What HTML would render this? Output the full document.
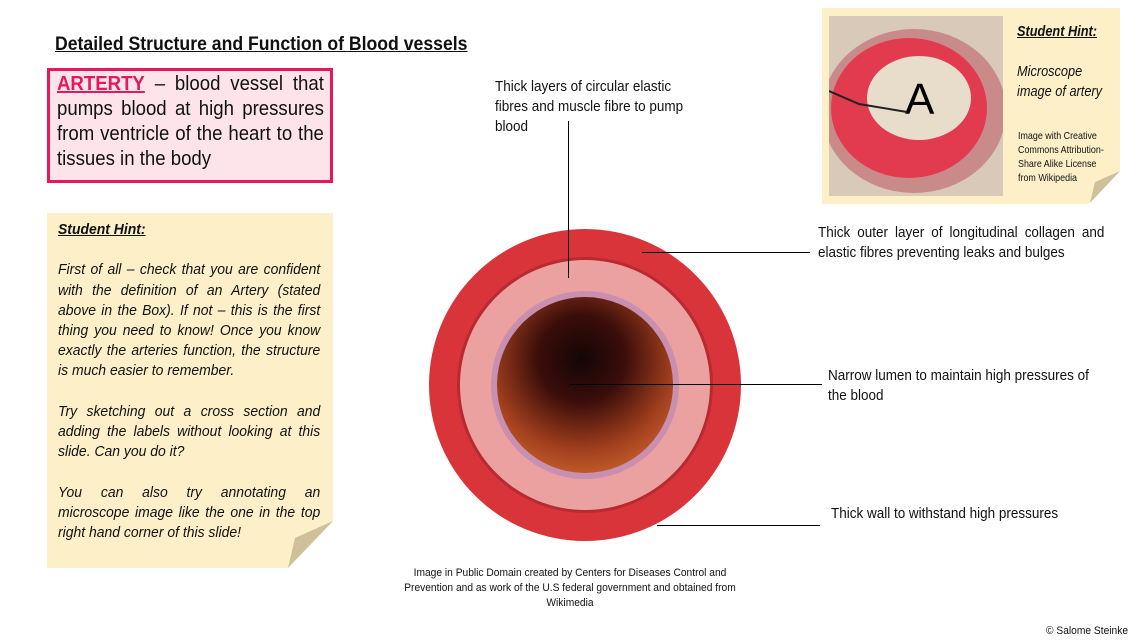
<!DOCTYPE html>
<html><head><meta charset="utf-8"><style>
body{margin:0;width:1146px;height:642px;background:#fff;position:relative;overflow:hidden;font-family:"Liberation Sans",sans-serif;color:#111}
.a{position:absolute}
.n{transform:scaleX(0.93);transform-origin:0 0}
.j{text-align:justify;text-align-last:left}
</style></head><body>
<div class="a" style="left:55px;top:34px;font-size:19px;font-weight:bold;text-decoration:underline;transform:scaleX(0.928);transform-origin:0 0;white-space:nowrap">Detailed Structure and Function of Blood vessels</div>

<div class="a" style="left:47px;top:68px;width:280px;height:109px;border:3px solid #e8175d;background:#fce4ea;"></div>
<div class="a n j" style="left:57px;top:72px;width:287px;font-size:20px;line-height:25px;">
<span style="color:#e8175d;font-weight:bold;text-decoration:underline">ARTERTY</span> – blood vessel that pumps blood at high pressures from ventricle of the heart to the tissues in the body</div>

<div class="a" style="left:47px;top:213px;width:286px;height:355px;background:#fdf0c9;"></div>
<svg class="a" style="left:286px;top:520px" width="48" height="50"><polygon points="48,0 48,50 0,50" fill="#fff"/><polygon points="47,1 2,48 9,18" fill="#cfc09a"/></svg>
<div class="a n j" style="left:58px;top:220px;width:282px;font-size:15px;line-height:20.2px;font-style:italic;">
<b style="text-decoration:underline">Student Hint:</b><br><br>
First of all – check that you are confident with the definition of an Artery (stated above in the Box). If not – this is the first thing you need to know! Once you know exactly the arteries function, the structure is much easier to remember.<br><br>
Try sketching out a cross section and adding the labels without looking at this slide. Can you do it?<br><br>
You can also try annotating an microscope image like the one in the top right hand corner of this slide!</div>

<div class="a" style="left:822px;top:8px;width:298px;height:196px;background:#fdf0c9;"></div>
<svg class="a" style="left:1087px;top:170px" width="34" height="35"><polygon points="34,0 34,35 0,35" fill="#fff"/><polygon points="33,1 3,33 8,12" fill="#cfc09a"/></svg>
<svg class="a" style="left:829px;top:16px" width="174" height="180">
<rect width="174" height="180" fill="#d9c9b8"/>
<ellipse cx="85" cy="95" rx="92" ry="82" fill="#c98a8a"/>
<ellipse cx="80" cy="92" rx="78" ry="70" fill="#e23a4e"/>
<ellipse cx="90" cy="82" rx="52" ry="42" fill="#e8dccb"/>
<text x="76" y="98" font-size="44" font-family="Liberation Sans" fill="#000">A</text>
<path d="M0 75 L30 88 L78 96" stroke="#222" stroke-width="2" fill="none"/>
</svg>
<div class="a" style="left:1017px;top:22px;font-size:15px;font-style:italic;line-height:20px;white-space:nowrap;transform:scaleX(0.85);transform-origin:0 0"><b style="text-decoration:underline">Student Hint:</b><br><br>Microscope<br>image of artery</div>
<div class="a" style="left:1018px;top:129px;font-size:10.5px;line-height:14px;white-space:nowrap;transform:scaleX(0.85);transform-origin:0 0">Image with Creative<br>Commons Attribution-<br>Share Alike License<br>from Wikipedia</div>

<svg class="a" style="left:420px;top:220px" width="340" height="340">
<defs>
<radialGradient id="lu" cx="0.48" cy="0.35" r="0.7"><stop offset="0" stop-color="#140606"/><stop offset="0.35" stop-color="#3a0d0a"/><stop offset="0.75" stop-color="#a3401e"/><stop offset="1" stop-color="#c9622e"/></radialGradient>
</defs>
<circle cx="165" cy="165" r="156" fill="#d8343a"/>
<circle cx="165" cy="165" r="128" fill="#b82a30" />
<circle cx="165" cy="165" r="125" fill="#eaa1a0"/>
<circle cx="165" cy="165" r="94" fill="#c98fb0"/>
<circle cx="165" cy="165" r="88" fill="url(#lu)"/>
</svg>

<div class="a n" style="left:495px;top:77px;font-size:14.5px;line-height:20px;white-space:nowrap">Thick layers of circular elastic<br>fibres and muscle fibre to pump<br>blood</div>
<div class="a" style="left:568px;top:121px;width:1px;height:157px;background:#000"></div>
<div class="a n j" style="left:818px;top:223px;font-size:14.5px;line-height:20px;width:308px;">Thick outer layer of longitudinal collagen and elastic fibres preventing leaks and bulges</div>
<div class="a" style="left:642px;top:252px;width:168px;height:1px;background:#000"></div>
<div class="a n" style="left:828px;top:366px;font-size:14.5px;line-height:20px;width:301px;">Narrow lumen to maintain high pressures of the blood</div>
<div class="a" style="left:570px;top:384px;width:252px;height:1px;background:#000"></div>
<div class="a n" style="left:831px;top:506px;font-size:14.5px;white-space:nowrap">Thick wall to withstand high pressures</div>
<div class="a" style="left:657px;top:525px;width:163px;height:1px;background:#000"></div>

<div class="a n" style="left:397px;top:566px;width:372px;text-align:center;font-size:11px;line-height:15px;">Image in Public Domain created by Centers for Diseases Control and Prevention and as work of the U.S federal government and obtained from Wikimedia</div>
<div class="a n" style="left:1046px;top:625px;font-size:11px;white-space:nowrap">© Salome Steinke</div>
</body></html>
